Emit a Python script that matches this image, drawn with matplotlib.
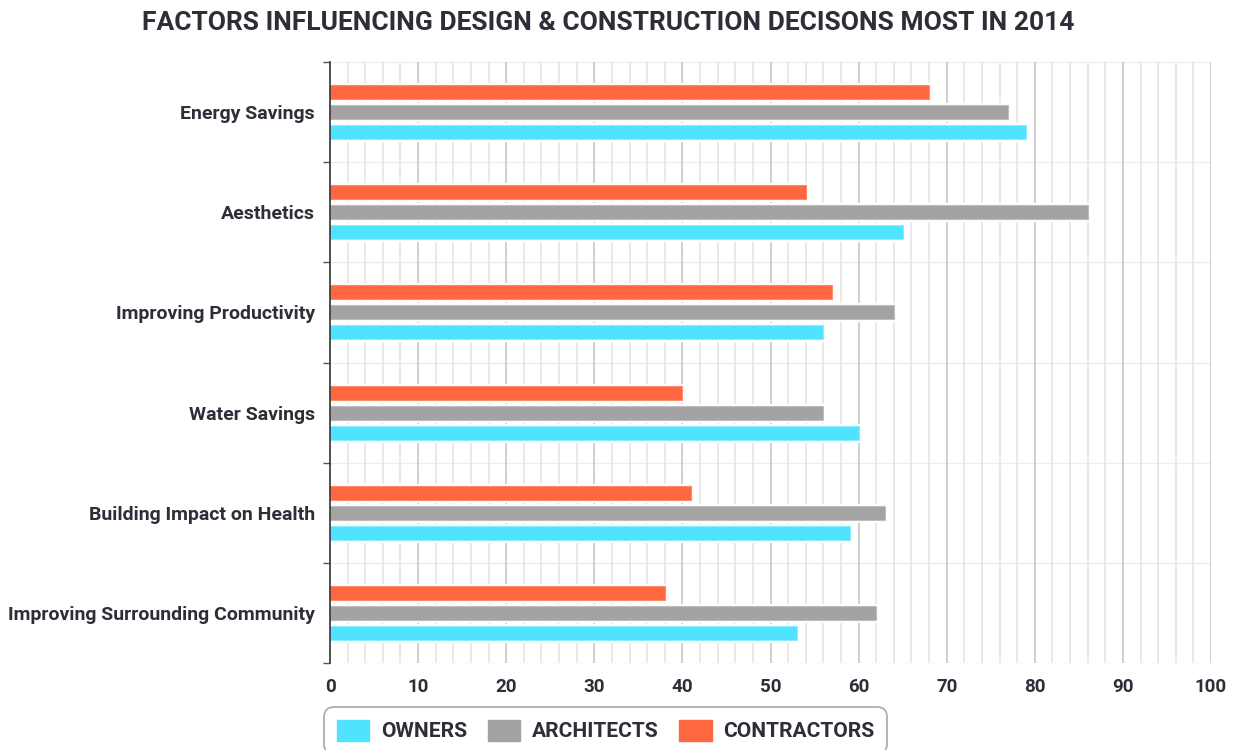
import matplotlib.pyplot as plt
import numpy as np
from matplotlib.patches import Patch

# Data
categories = ['Energy Savings', 'Aesthetics', 'Improving Productivity',
              'Water Savings', 'Building Impact on Health',
              'Improving Surrounding Community']
owners = [79, 65, 56, 60, 59, 53]
architects = [77, 86, 64, 56, 63, 62]
contractors = [68, 54, 57, 40, 41, 38]
series_names = ['OWNERS', 'ARCHITECTS', 'CONTRACTORS']
x_ticks = [0, 10, 20, 30, 40, 50, 60, 70, 80, 90, 100]

# Colours
c_owner = '#4fe3ff'
c_arch = '#a3a3a3'
c_contr = '#ff6740'
text_col = '#2e2e38'

font = ['Roboto', 'DejaVu Sans']

fig = plt.figure(figsize=(12.41, 7.5), dpi=100)
ax = fig.add_axes([330 / 1241, 1 - 663 / 750, 881 / 1241, 601 / 750])

y = np.arange(len(categories))
h = 0.14
series = [(contractors, -0.2, c_contr, '#ff8a6a'),
          (architects, 0.0, c_arch, '#bdbdbd'),
          (owners, 0.2, c_owner, '#8aedff')]
for vals, off, col, edge in series:
    # white halo so the grid stops short of each bar
    ax.barh(y + off, vals, height=h, color='white', edgecolor='white',
            linewidth=3.6, zorder=2)
    ax.barh(y + off, vals, height=h, color=col, edgecolor=edge,
            linewidth=0.8, zorder=3)

ax.set_xlim(0, 100)
ax.set_ylim(len(categories) - 0.5, -0.5)

# vertical grid: light every 2, darker every 10
for v in range(2, 101, 2):
    if v % 10 == 0:
        ax.axvline(v, color='#c8c8c8', lw=1.2, zorder=1)
    else:
        ax.axvline(v, color='#e5e5e5', lw=1.2, zorder=1)
# faint lines between categories
for b in np.arange(-0.5, len(categories), 1.0):
    ax.axhline(b, color='#eeeeee', lw=1.0, zorder=0.5)

for s in ['top', 'right', 'bottom']:
    ax.spines[s].set_visible(False)
ax.spines['left'].set_color('#333333')
ax.spines['left'].set_linewidth(1.2)
ax.spines['left'].set_zorder(4)

ax.set_xticks(x_ticks)
ax.set_xticklabels([str(t) for t in x_ticks], fontsize=13.5, fontweight='bold',
                   color=text_col, family=font)
ax.tick_params(axis='x', length=0, pad=11)

ax.set_yticks(np.arange(-0.5, len(categories), 1.0))
ax.set_yticklabels([])
ax.tick_params(axis='y', which='major', length=5, width=1.0, color='#555555')
ax.set_yticks(y, minor=True)
ax.set_yticklabels(categories, minor=True, fontsize=14, fontweight='bold',
                   color=text_col, family=font)
ax.tick_params(axis='y', which='minor', length=0, pad=11)

fig.text(608 / 1241, 1 - 23 / 750,
         'FACTORS INFLUENCING DESIGN & CONSTRUCTION DECISONS MOST IN 2014',
         ha='center', va='center', fontsize=19, fontweight='bold',
         color=text_col, family=font)

handles = [Patch(facecolor=c_owner, edgecolor=c_owner),
           Patch(facecolor=c_arch, edgecolor=c_arch),
           Patch(facecolor=c_contr, edgecolor=c_contr)]
leg = fig.legend(handles, series_names, loc='upper left',
                 bbox_to_anchor=(324 / 1241, 1 - 707 / 750), ncol=3,
                 frameon=True, fancybox=True,
                 prop={'weight': 'bold', 'size': 15.1, 'family': font},
                 handlelength=1.55, handleheight=1.2, handletextpad=0.55,
                 columnspacing=1.0, borderpad=0.6, borderaxespad=0)
for t in leg.get_texts():
    t.set_color(text_col)
leg.get_frame().set_edgecolor('#9a9a9a')
leg.get_frame().set_linewidth(1.3)
leg.get_frame().set_boxstyle('round,pad=0,rounding_size=0.5')

fig.savefig('out.png', dpi=100)
